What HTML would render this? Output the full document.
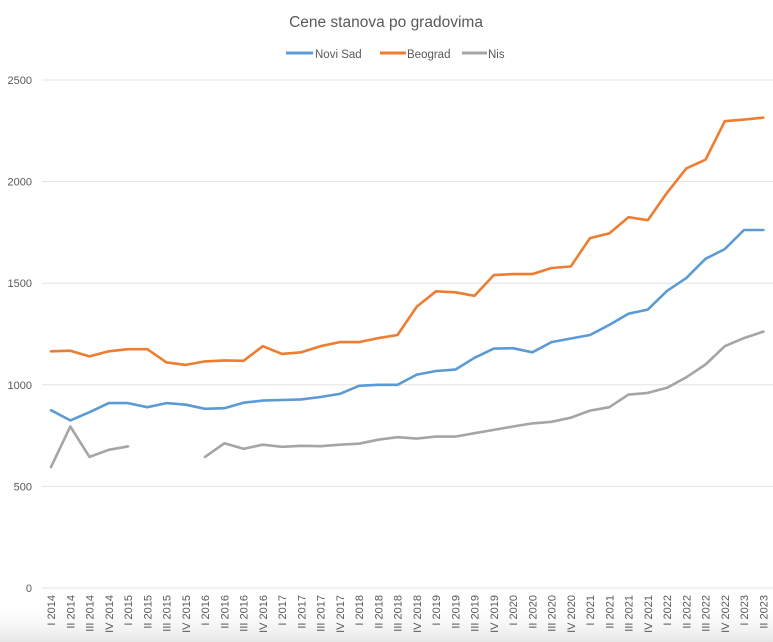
<!DOCTYPE html>
<html><head><meta charset="utf-8"><style>
html,body{margin:0;padding:0;background:#fff;}
svg{display:block;font-family:"Liberation Sans",sans-serif;}
</style></head><body>
<svg id="c" width="773" height="642" viewBox="0 0 773 642" xmlns="http://www.w3.org/2000/svg">
<defs><linearGradient id="g" x1="0" y1="0" x2="0" y2="1"><stop offset="0" stop-color="#fff" stop-opacity="0"/><stop offset="1" stop-color="#e6e6e6"/></linearGradient></defs>
<rect x="0" y="600" width="773" height="42" fill="url(#g)"/>
<text x="386" y="27" text-anchor="middle" font-size="15.5" fill="#595959">Cene stanova po gradovima</text>
<line x1="286" y1="53" x2="313" y2="53" stroke="#5b9bd5" stroke-width="3"/>
<text x="315" y="58" font-size="11.5" fill="#595959">Novi Sad</text>
<line x1="380" y1="53" x2="406" y2="53" stroke="#ed7d31" stroke-width="3"/>
<text x="407" y="58" font-size="11.5" fill="#595959">Beograd</text>
<line x1="462" y1="53" x2="487" y2="53" stroke="#a5a5a5" stroke-width="3"/>
<text x="488" y="58" font-size="11.5" fill="#595959">Nis</text>
<g id="grid"></g><g id="lines"></g><g id="xl"></g>
</svg>
<script>
var ns="http://www.w3.org/2000/svg",svg=document.getElementById('c');
function el(t,a,txt,p){var e=document.createElementNS(ns,t);for(var k in a)e.setAttribute(k,a[k]);if(txt!=null)e.textContent=txt;(p||svg).appendChild(e);return e;}
function Y(v){return 588-v*0.2032;}
function X(i){return 51+i*19.25;}
var grid=document.getElementById('grid');
[0,500,1000,1500,2000,2500].forEach(function(v){
 el('line',{x1:42,x2:773,y1:Y(v),y2:Y(v),stroke:'#e3e3e3','stroke-width':1},null,grid);
 el('text',{x:32,y:Y(v)+4,'text-anchor':'end','font-size':11,fill:'#595959'},v,grid);
});
var q=['I','II','III','IV'],xl=document.getElementById('xl');
for(var i=0;i<38;i++){var lab=q[i%4]+' '+(2014+Math.floor(i/4));var x=X(i)+4;
 el('text',{x:0,y:0,'font-size':11,fill:'#595959','text-anchor':'end',transform:'translate('+x+',595) rotate(-90)'},lab,xl);}
var bg=[1165,1168,1140,1165,1175,1175,1110,1098,1115,1120,1118,1190,1152,1160,1190,1210,1210,1230,1245,1385,1460,1455,1438,1540,1545,1545,1575,1582,1722,1745,1825,1810,1945,2065,2108,2297,2305,2315];
var ns_=[875,825,865,910,910,890,910,902,882,885,912,922,925,928,940,955,995,1000,1000,1050,1068,1075,1133,1178,1180,1160,1210,1228,1245,1295,1350,1370,1462,1525,1620,1668,1762,1762];
var ni=[595,795,645,680,697,null,null,null,645,712,685,705,695,700,698,705,710,730,742,735,745,745,762,778,795,810,818,838,873,890,952,960,985,1037,1100,1190,1230,1262];
var L=document.getElementById('lines');
function draw(d,c){var segs=[],cur=[];d.forEach(function(v,i){if(v==null){if(cur.length)segs.push(cur);cur=[];}else cur.push(X(i).toFixed(1)+','+Y(v).toFixed(1));});if(cur.length)segs.push(cur);
 segs.forEach(function(s){el('polyline',{points:s.join(' '),fill:'none',stroke:c,'stroke-width':2.6,'stroke-linejoin':'round','stroke-linecap':'round'},null,L);});}
draw(ni,'#a5a5a5');draw(ns_,'#5b9bd5');draw(bg,'#ed7d31');
</script>
</body></html>
